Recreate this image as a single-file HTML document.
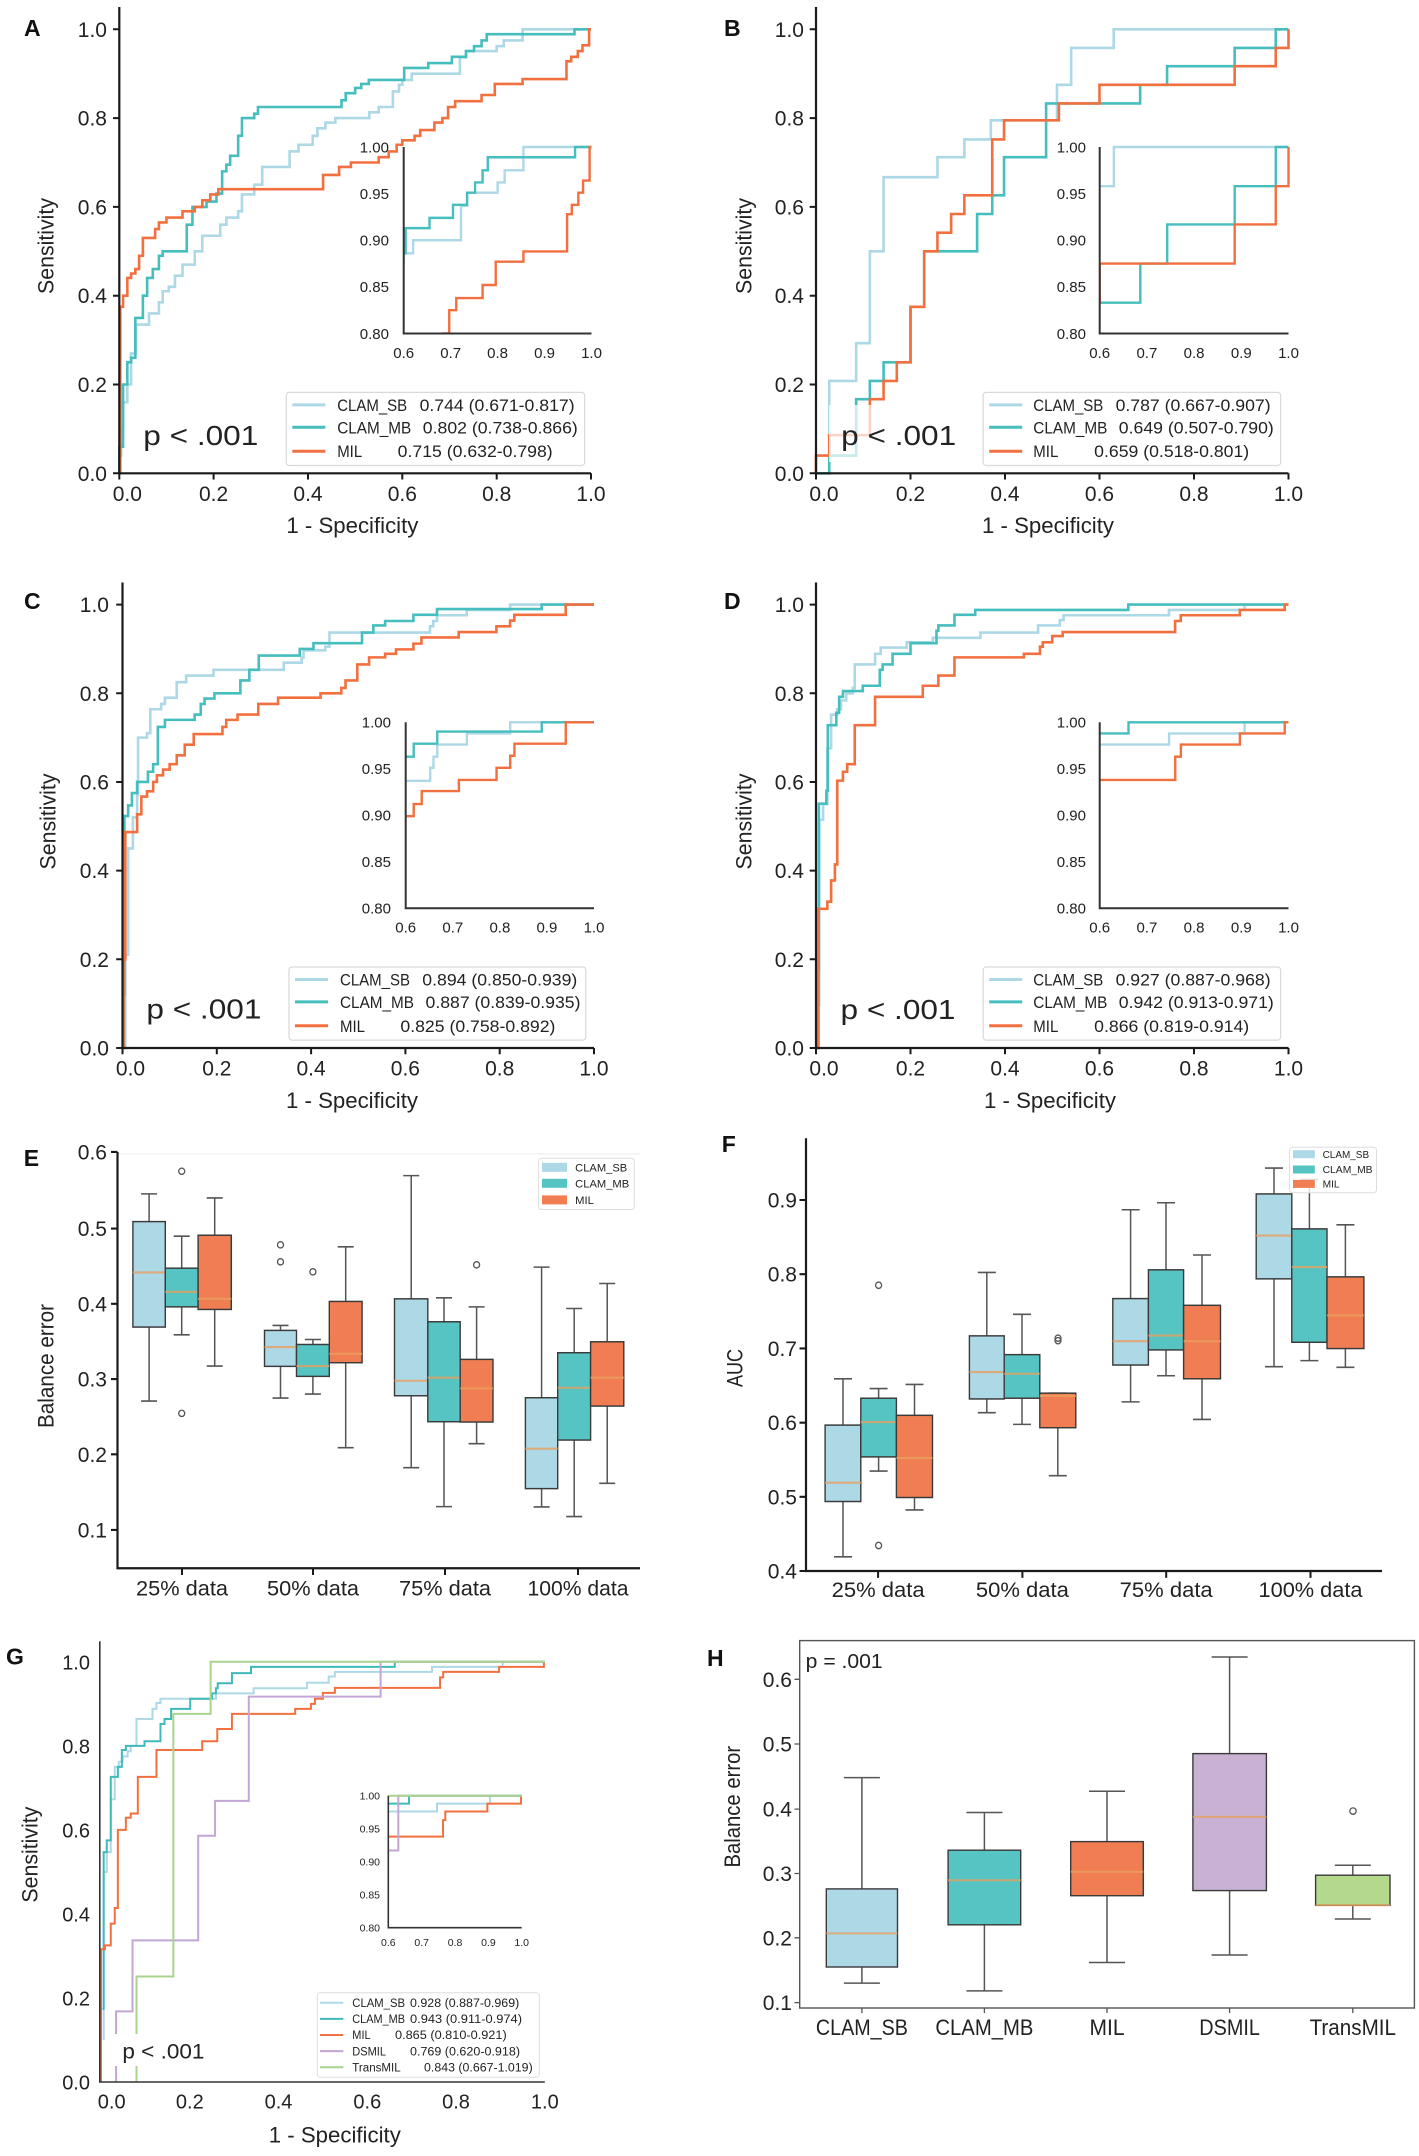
<!DOCTYPE html>
<html><head><meta charset="utf-8"><style>
html,body{margin:0;padding:0;background:#fff;width:1419px;height:2156px;overflow:hidden;}
svg{display:block;}
text{font-family:"Liberation Sans",Arial,sans-serif;fill:#222;}
.tk{font-size:21px;}
.al{font-size:22px;}
.pl{font-size:23px;font-weight:bold;fill:#111;}
.it{font-size:15px;fill:#333;}
.lg{font-size:17px;fill:#333;}
.c path{fill:none;vector-effect:non-scaling-stroke;stroke-width:2.6;}
.ci path{fill:none;vector-effect:non-scaling-stroke;stroke-width:2.4;}
.cg path{fill:none;vector-effect:non-scaling-stroke;stroke-width:2;}
.sb{stroke:#ADD8E6;} .mb{stroke:#46BEBE;} .mi{stroke:#F2703F;} .ds{stroke:#C4A6D6;} .tr{stroke:#A9D48D;}
.wh{stroke:#555;stroke-width:1.5;fill:none;}
.bx{stroke:#3a3a3a;stroke-width:1.4;}
.md{stroke:#E8A060;stroke-opacity:0.8;stroke-width:2;}
.ol{fill:none;stroke:#555;stroke-width:1.3;}
</style></head><body>
<svg width="1419" height="2156" viewBox="0 0 1419 2156" xmlns="http://www.w3.org/2000/svg">
<rect width="1419" height="2156" fill="#fff"/>
<defs>
<clipPath id="clA"><rect x="403.7" y="145" width="190" height="188.5"/></clipPath>
<clipPath id="clB"><rect x="1099.7" y="145" width="191" height="188.5"/></clipPath>
<clipPath id="clC"><rect x="405.7" y="720.3" width="190.5" height="187.9"/></clipPath>
<clipPath id="clD"><rect x="1099.7" y="720.3" width="191" height="187.9"/></clipPath>
<clipPath id="clG"><rect x="388.3" y="1794" width="135.5" height="133.7"/></clipPath>
</defs>

<!-- ================= A ================= -->
<text class="pl" x="24" y="36">A</text>
<g class="c" transform="matrix(471.7 0 0 -444 119.3 473.3)">
<path class="sb" d="M0 0V0.04H0.004V0.1H0.008V0.16H0.017V0.2H0.025V0.27H0.035V0.335H0.063V0.36H0.084V0.385H0.092V0.41H0.105V0.42H0.118V0.445H0.134V0.47H0.16V0.5H0.176V0.535H0.214V0.56H0.227V0.576H0.252V0.59H0.26V0.628H0.286V0.65H0.303V0.69H0.361V0.725H0.38V0.74H0.41V0.76H0.42V0.777H0.437V0.79H0.458V0.8H0.53V0.813H0.55V0.825H0.58V0.86H0.593V0.875H0.6V0.886H0.62V0.9H0.722V0.937H0.735V0.951H0.8V0.962H0.815V0.975H0.855V1H1"/>
<path class="mb" d="M0 0V0.06H0.008V0.2H0.017V0.25H0.025V0.26H0.034V0.35H0.05V0.4H0.059V0.44H0.071V0.46H0.084V0.49H0.092V0.5H0.143V0.56H0.155V0.6H0.185V0.612H0.206V0.63H0.218V0.68H0.227V0.695H0.235V0.715H0.252V0.76H0.26V0.8H0.286V0.81H0.294V0.825H0.471V0.84H0.48V0.856H0.5V0.868H0.513V0.877H0.529V0.886H0.604V0.913H0.655V0.924H0.705V0.938H0.735V0.951H0.752V0.962H0.768V0.975H0.779V0.989H0.965V1H1"/>
<path class="mi" d="M0 0H0.002V0.375H0.008V0.4H0.017V0.44H0.025V0.45H0.034V0.46H0.042V0.49H0.05V0.53H0.076V0.55H0.084V0.565H0.1V0.576H0.134V0.59H0.16V0.6H0.176V0.615H0.193V0.628H0.21V0.64H0.432V0.672H0.466V0.69H0.491V0.7H0.55V0.712H0.571V0.725H0.588V0.74H0.6V0.75H0.626V0.76H0.638V0.773H0.668V0.79H0.685V0.8H0.697V0.825H0.712V0.838H0.768V0.852H0.796V0.877H0.855V0.888H0.948V0.928H0.958V0.938H0.972V0.951H0.982V0.964H0.996V1H1"/>
</g>
<g clip-path="url(#clA)"><g class="ci" transform="matrix(469.5 0 0 -932.5 122 1079.5)">
<path class="sb" d="M0.5 0.8H0.53V0.813H0.55V0.825H0.58V0.86H0.593V0.875H0.6V0.886H0.62V0.9H0.722V0.937H0.735V0.951H0.8V0.962H0.815V0.975H0.855V1H1"/>
<path class="mb" d="M0.5 0.868H0.513V0.877H0.529V0.886H0.604V0.913H0.655V0.924H0.705V0.938H0.735V0.951H0.752V0.962H0.768V0.975H0.779V0.989H0.965V1H1"/>
<path class="mi" d="M0.685 0.79V0.8H0.697V0.825H0.712V0.838H0.768V0.852H0.796V0.877H0.855V0.888H0.948V0.928H0.958V0.938H0.972V0.951H0.982V0.964H0.996V1H1"/>
</g></g>
<path d="M403.7 147V333.5H591.5" stroke="#333" stroke-width="2" fill="none"/>
<g class="it" text-anchor="end"><text x="389" y="152.3">1.00</text><text x="389" y="198.9">0.95</text><text x="389" y="245.6">0.90</text><text x="389" y="292.2">0.85</text><text x="389" y="338.8">0.80</text></g>
<g class="it" text-anchor="middle"><text x="403.7" y="358">0.6</text><text x="450.7" y="358">0.7</text><text x="497.6" y="358">0.8</text><text x="544.6" y="358">0.9</text><text x="591.5" y="358">1.0</text></g>
<path d="M119.3 7V473.3H591" stroke="#1a1a1a" stroke-width="2.2" fill="none"/>
<path d="M113 473.3H119.3M113 384.5H119.3M113 295.7H119.3M113 206.9H119.3M113 118.1H119.3M113 29.3H119.3M119.3 473.3V479.5M213.6 473.3V479.5M308 473.3V479.5M402.3 473.3V479.5M496.7 473.3V479.5M591 473.3V479.5" stroke="#1a1a1a" stroke-width="2"/>
<g class="tk" text-anchor="end"><text x="107" y="480.8">0.0</text><text x="107" y="392">0.2</text><text x="107" y="303.2">0.4</text><text x="107" y="214.4">0.6</text><text x="107" y="125.6">0.8</text><text x="107" y="36.8">1.0</text></g>
<g class="tk" text-anchor="middle"><text x="127.3" y="500.8">0.0</text><text x="213.6" y="500.8">0.2</text><text x="308" y="500.8">0.4</text><text x="402.3" y="500.8">0.6</text><text x="496.7" y="500.8">0.8</text><text x="591" y="500.8">1.0</text></g>
<text class="al" text-anchor="middle" x="352.4" y="533" textLength="132" lengthAdjust="spacingAndGlyphs">1 - Specificity</text>
<text class="al" text-anchor="middle" transform="translate(53.5 246) rotate(-90)" textLength="96" lengthAdjust="spacingAndGlyphs">Sensitivity</text>
<rect x="131" y="405" width="130" height="57" fill="#fff" fill-opacity="0.7"/>
<text x="143.3" y="445" style="font-size:28px" textLength="115" lengthAdjust="spacingAndGlyphs">p &lt; .001</text>
<rect x="286.3" y="392.4" width="298.3" height="73.1" rx="3" fill="#fff" stroke="#d9d9d9" stroke-width="1.2"/>
<path d="M292.3 404.9H325.3" stroke="#ADD8E6" stroke-width="3"/><path d="M292.3 427.3H325.3" stroke="#46BEBE" stroke-width="3"/><path d="M292.3 451.2H325.3" stroke="#F2703F" stroke-width="3"/>
<g class="lg"><text x="337.2" y="410.9" textLength="70" lengthAdjust="spacingAndGlyphs">CLAM_SB</text><text x="419.6" y="410.9" textLength="155" lengthAdjust="spacingAndGlyphs">0.744 (0.671-0.817)</text>
<text x="337.2" y="433.3" textLength="74" lengthAdjust="spacingAndGlyphs">CLAM_MB</text><text x="422.8" y="433.3" textLength="155" lengthAdjust="spacingAndGlyphs">0.802 (0.738-0.866)</text>
<text x="337.2" y="457.2" textLength="25" lengthAdjust="spacingAndGlyphs">MIL</text><text x="397.7" y="457.2" textLength="155" lengthAdjust="spacingAndGlyphs">0.715 (0.632-0.798)</text></g>

<!-- ================= B ================= -->
<text class="pl" x="724" y="36">B</text>
<g class="c" transform="matrix(472.5 0 0 -444 816 473.3)">
<path class="sb" d="M0 0H0.028V0.208H0.085V0.293H0.114V0.5H0.143V0.667H0.257V0.712H0.314V0.752H0.37V0.795H0.51V0.875H0.54V0.958H0.63V1H1"/>
<path class="mb" d="M0 0H0.028V0.04H0.085V0.167H0.114V0.208H0.143V0.25H0.2V0.375H0.229V0.5H0.341V0.584H0.373V0.626H0.398V0.712H0.487V0.833H0.686V0.875H0.743V0.917H0.886V0.958H0.973V1H1"/>
<path class="mi" d="M0 0V0.04H0.028V0.086H0.114V0.167H0.143V0.208H0.171V0.25H0.2V0.375H0.229V0.5H0.257V0.542H0.286V0.584H0.314V0.626H0.373V0.752H0.398V0.795H0.514V0.833H0.6V0.875H0.886V0.917H0.973V0.958H1V1"/>
</g>
<g clip-path="url(#clB)"><g class="ci" transform="matrix(472 0 0 -932.5 816.5 1079.5)">
<path class="sb" d="M0.5 0.795H0.51V0.875H0.54V0.958H0.63V1H1"/>
<path class="mb" d="M0.487 0.8V0.833H0.686V0.875H0.743V0.917H0.886V0.958H0.973V1H1"/>
<path class="mi" d="M0.5 0.795H0.514V0.833H0.6V0.875H0.886V0.917H0.973V0.958H1V1"/>
</g></g>
<path d="M1099.7 147V333.5H1288.5" stroke="#333" stroke-width="2" fill="none"/>
<g class="it" text-anchor="end"><text x="1086" y="152.3">1.00</text><text x="1086" y="198.9">0.95</text><text x="1086" y="245.6">0.90</text><text x="1086" y="292.2">0.85</text><text x="1086" y="338.8">0.80</text></g>
<g class="it" text-anchor="middle"><text x="1099.7" y="358">0.6</text><text x="1146.9" y="358">0.7</text><text x="1194.1" y="358">0.8</text><text x="1241.3" y="358">0.9</text><text x="1288.5" y="358">1.0</text></g>
<path d="M816 7V473.3H1288.5" stroke="#1a1a1a" stroke-width="2.2" fill="none"/>
<path d="M809.7 473.3H816M809.7 384.5H816M809.7 295.7H816M809.7 206.9H816M809.7 118.1H816M809.7 29.3H816M816 473.3V479.5M910.5 473.3V479.5M1005 473.3V479.5M1099.5 473.3V479.5M1194 473.3V479.5M1288.5 473.3V479.5" stroke="#1a1a1a" stroke-width="2"/>
<g class="tk" text-anchor="end"><text x="804" y="480.8">0.0</text><text x="804" y="392">0.2</text><text x="804" y="303.2">0.4</text><text x="804" y="214.4">0.6</text><text x="804" y="125.6">0.8</text><text x="804" y="36.8">1.0</text></g>
<g class="tk" text-anchor="middle"><text x="824" y="500.8">0.0</text><text x="910.5" y="500.8">0.2</text><text x="1005" y="500.8">0.4</text><text x="1099.5" y="500.8">0.6</text><text x="1194" y="500.8">0.8</text><text x="1288.5" y="500.8">1.0</text></g>
<text class="al" text-anchor="middle" x="1048" y="533" textLength="132" lengthAdjust="spacingAndGlyphs">1 - Specificity</text>
<text class="al" text-anchor="middle" transform="translate(751.5 246) rotate(-90)" textLength="96" lengthAdjust="spacingAndGlyphs">Sensitivity</text>
<rect x="829" y="405" width="130" height="57" fill="#fff" fill-opacity="0.7"/>
<text x="841.2" y="445" style="font-size:28px" textLength="115" lengthAdjust="spacingAndGlyphs">p &lt; .001</text>
<rect x="983.2" y="392.4" width="297.4" height="73.1" rx="3" fill="#fff" stroke="#d9d9d9" stroke-width="1.2"/>
<path d="M989.2 404.9H1022.2" stroke="#ADD8E6" stroke-width="3"/><path d="M989.2 427.3H1022.2" stroke="#46BEBE" stroke-width="3"/><path d="M989.2 451.2H1022.2" stroke="#F2703F" stroke-width="3"/>
<g class="lg"><text x="1033.3" y="410.9" textLength="70" lengthAdjust="spacingAndGlyphs">CLAM_SB</text><text x="1115.6" y="410.9" textLength="155" lengthAdjust="spacingAndGlyphs">0.787 (0.667-0.907)</text>
<text x="1033.3" y="433.3" textLength="74" lengthAdjust="spacingAndGlyphs">CLAM_MB</text><text x="1118.8" y="433.3" textLength="155" lengthAdjust="spacingAndGlyphs">0.649 (0.507-0.790)</text>
<text x="1033.3" y="457.2" textLength="25" lengthAdjust="spacingAndGlyphs">MIL</text><text x="1094.2" y="457.2" textLength="155" lengthAdjust="spacingAndGlyphs">0.659 (0.518-0.801)</text></g>

<!-- ================= C ================= -->
<text class="pl" x="24" y="609">C</text>
<g class="c" transform="matrix(471.5 0 0 -443.4 122.5 1048)">
<path class="sb" d="M0 0H0.006V0.21H0.012V0.45H0.022V0.52H0.031V0.57H0.033V0.7H0.052V0.71H0.059V0.764H0.082V0.776H0.09V0.79H0.115V0.825H0.135V0.84H0.193V0.853H0.342V0.869H0.38V0.88H0.384V0.897H0.43V0.905H0.439V0.937H0.652V0.951H0.659V0.963H0.667V0.976H0.73V0.988H0.822V1H1"/>
<path class="mb" d="M0 0H0.003V0.12H0.004V0.523H0.012V0.547H0.02V0.575H0.031V0.6H0.054V0.623H0.065V0.64H0.075V0.724H0.09V0.74H0.153V0.752H0.166V0.776H0.174V0.788H0.195V0.8H0.25V0.829H0.269V0.853H0.289V0.885H0.376V0.9H0.405V0.913H0.508V0.937H0.532V0.953H0.557V0.963H0.617V0.977H0.667V0.99H0.889V1H1"/>
<path class="mi" d="M0 0H0.002V0.2H0.006V0.487H0.031V0.527H0.04V0.567H0.052V0.579H0.065V0.6H0.073V0.615H0.086V0.628H0.1V0.64H0.115V0.66H0.132V0.684H0.151V0.708H0.212V0.724H0.22V0.74H0.244V0.752H0.288V0.776H0.33V0.79H0.42V0.8H0.464V0.812H0.473V0.829H0.498V0.865H0.523V0.881H0.557V0.889H0.58V0.899H0.617V0.912H0.634V0.926H0.713V0.938H0.793V0.951H0.822V0.964H0.831V0.977H0.94V1H1"/>
</g>
<g clip-path="url(#clC)"><g class="ci" transform="matrix(470.75 0 0 -929.5 123.25 1651.8)">
<path class="sb" d="M0.5 0.937H0.652V0.951H0.659V0.963H0.667V0.976H0.73V0.988H0.822V1H1"/>
<path class="mb" d="M0.5 0.937H0.532V0.953H0.557V0.963H0.617V0.977H0.667V0.99H0.889V1H1"/>
<path class="mi" d="M0.5 0.865H0.523V0.881H0.557V0.889H0.58V0.899H0.617V0.912H0.634V0.926H0.713V0.938H0.793V0.951H0.822V0.964H0.831V0.977H0.94V1H1"/>
</g></g>
<path d="M405.7 722.3V908.2H594" stroke="#333" stroke-width="2" fill="none"/>
<g class="it" text-anchor="end"><text x="391" y="727.6">1.00</text><text x="391" y="774.1">0.95</text><text x="391" y="820.5">0.90</text><text x="391" y="867">0.85</text><text x="391" y="913.5">0.80</text></g>
<g class="it" text-anchor="middle"><text x="405.7" y="932.5">0.6</text><text x="452.8" y="932.5">0.7</text><text x="499.9" y="932.5">0.8</text><text x="546.9" y="932.5">0.9</text><text x="594" y="932.5">1.0</text></g>
<path d="M122.5 582.5V1048H594" stroke="#1a1a1a" stroke-width="2.2" fill="none"/>
<path d="M116.2 1048H122.5M116.2 959.3H122.5M116.2 870.6H122.5M116.2 782H122.5M116.2 693.3H122.5M116.2 604.6H122.5M122.5 1048V1054.2M216.8 1048V1054.2M311.1 1048V1054.2M405.4 1048V1054.2M499.7 1048V1054.2M594 1048V1054.2" stroke="#1a1a1a" stroke-width="2"/>
<g class="tk" text-anchor="end"><text x="109" y="1055.5">0.0</text><text x="109" y="966.8">0.2</text><text x="109" y="878.1">0.4</text><text x="109" y="789.5">0.6</text><text x="109" y="700.8">0.8</text><text x="109" y="612.1">1.0</text></g>
<g class="tk" text-anchor="middle"><text x="130.5" y="1075.5">0.0</text><text x="216.8" y="1075.5">0.2</text><text x="311.1" y="1075.5">0.4</text><text x="405.4" y="1075.5">0.6</text><text x="499.7" y="1075.5">0.8</text><text x="594" y="1075.5">1.0</text></g>
<text class="al" text-anchor="middle" x="352" y="1108" textLength="132" lengthAdjust="spacingAndGlyphs">1 - Specificity</text>
<text class="al" text-anchor="middle" transform="translate(55.5 821.5) rotate(-90)" textLength="96" lengthAdjust="spacingAndGlyphs">Sensitivity</text>
<rect x="134" y="978" width="130" height="57" fill="#fff" fill-opacity="0.7"/>
<text x="146.4" y="1018.5" style="font-size:28px" textLength="115" lengthAdjust="spacingAndGlyphs">p &lt; .001</text>
<rect x="289" y="967" width="296.8" height="73.1" rx="3" fill="#fff" stroke="#d9d9d9" stroke-width="1.2"/>
<path d="M295 979.5H328" stroke="#ADD8E6" stroke-width="3"/><path d="M295 1001.9H328" stroke="#46BEBE" stroke-width="3"/><path d="M295 1025.8H328" stroke="#F2703F" stroke-width="3"/>
<g class="lg"><text x="340" y="985.5" textLength="70" lengthAdjust="spacingAndGlyphs">CLAM_SB</text><text x="422.3" y="985.5" textLength="155" lengthAdjust="spacingAndGlyphs">0.894 (0.850-0.939)</text>
<text x="340" y="1007.9" textLength="74" lengthAdjust="spacingAndGlyphs">CLAM_MB</text><text x="425.5" y="1007.9" textLength="155" lengthAdjust="spacingAndGlyphs">0.887 (0.839-0.935)</text>
<text x="340" y="1031.8" textLength="25" lengthAdjust="spacingAndGlyphs">MIL</text><text x="400.4" y="1031.8" textLength="155" lengthAdjust="spacingAndGlyphs">0.825 (0.758-0.892)</text></g>

<!-- ================= D ================= -->
<text class="pl" x="724" y="609">D</text>
<g class="c" transform="matrix(472.5 0 0 -443.4 816 1048)">
<path class="sb" d="M0 0H0.005V0.097H0.007V0.515H0.015V0.55H0.024V0.676H0.032V0.752H0.045V0.764H0.053V0.784H0.064V0.8H0.078V0.812H0.082V0.865H0.125V0.889H0.137V0.903H0.192V0.915H0.247V0.925H0.348V0.937H0.47V0.953H0.516V0.965H0.524V0.976H0.747V0.988H0.907V1H1"/>
<path class="mb" d="M0 0H0.005V0.177H0.006V0.551H0.022V0.58H0.025V0.728H0.043V0.756H0.049V0.792H0.057V0.805H0.099V0.817H0.135V0.853H0.141V0.865H0.162V0.889H0.2V0.913H0.255V0.941H0.259V0.953H0.293V0.977H0.337V0.988H0.661V1H1"/>
<path class="mi" d="M0 0H0.005V0.314H0.024V0.33H0.032V0.378H0.04V0.414H0.045V0.603H0.057V0.623H0.066V0.64H0.082V0.728H0.125V0.792H0.226V0.817H0.259V0.84H0.293V0.881H0.44V0.889H0.474V0.905H0.48V0.915H0.5V0.929H0.522V0.938H0.76V0.963H0.772V0.976H0.897V0.988H0.992V1H1"/>
</g>
<g clip-path="url(#clD)"><g class="ci" transform="matrix(472 0 0 -929.5 816.5 1651.8)">
<path class="sb" d="M0.5 0.953H0.516V0.965H0.524V0.976H0.747V0.988H0.907V1H1"/>
<path class="mb" d="M0.5 0.988H0.661V1H1"/>
<path class="mi" d="M0.5 0.929H0.522V0.938H0.76V0.963H0.772V0.976H0.897V0.988H0.992V1H1"/>
</g></g>
<path d="M1099.7 722.3V908.2H1288.5" stroke="#333" stroke-width="2" fill="none"/>
<g class="it" text-anchor="end"><text x="1086" y="727.6">1.00</text><text x="1086" y="774.1">0.95</text><text x="1086" y="820.5">0.90</text><text x="1086" y="867">0.85</text><text x="1086" y="913.5">0.80</text></g>
<g class="it" text-anchor="middle"><text x="1099.7" y="932.5">0.6</text><text x="1146.9" y="932.5">0.7</text><text x="1194.1" y="932.5">0.8</text><text x="1241.3" y="932.5">0.9</text><text x="1288.5" y="932.5">1.0</text></g>
<path d="M816 582.5V1048H1288.5" stroke="#1a1a1a" stroke-width="2.2" fill="none"/>
<path d="M809.7 1048H816M809.7 959.3H816M809.7 870.6H816M809.7 782H816M809.7 693.3H816M809.7 604.6H816M816 1048V1054.2M910.5 1048V1054.2M1005 1048V1054.2M1099.5 1048V1054.2M1194 1048V1054.2M1288.5 1048V1054.2" stroke="#1a1a1a" stroke-width="2"/>
<g class="tk" text-anchor="end"><text x="804" y="1055.5">0.0</text><text x="804" y="966.8">0.2</text><text x="804" y="878.1">0.4</text><text x="804" y="789.5">0.6</text><text x="804" y="700.8">0.8</text><text x="804" y="612.1">1.0</text></g>
<g class="tk" text-anchor="middle"><text x="824" y="1075.5">0.0</text><text x="910.5" y="1075.5">0.2</text><text x="1005" y="1075.5">0.4</text><text x="1099.5" y="1075.5">0.6</text><text x="1194" y="1075.5">0.8</text><text x="1288.5" y="1075.5">1.0</text></g>
<text class="al" text-anchor="middle" x="1050" y="1108" textLength="132" lengthAdjust="spacingAndGlyphs">1 - Specificity</text>
<text class="al" text-anchor="middle" transform="translate(751.5 821.5) rotate(-90)" textLength="96" lengthAdjust="spacingAndGlyphs">Sensitivity</text>
<rect x="828" y="978" width="130" height="57" fill="#fff" fill-opacity="0.7"/>
<text x="840.5" y="1019" style="font-size:28px" textLength="115" lengthAdjust="spacingAndGlyphs">p &lt; .001</text>
<rect x="983.2" y="967" width="297.4" height="73.1" rx="3" fill="#fff" stroke="#d9d9d9" stroke-width="1.2"/>
<path d="M989.2 979.5H1022.2" stroke="#ADD8E6" stroke-width="3"/><path d="M989.2 1001.9H1022.2" stroke="#46BEBE" stroke-width="3"/><path d="M989.2 1025.8H1022.2" stroke="#F2703F" stroke-width="3"/>
<g class="lg"><text x="1033.3" y="985.5" textLength="70" lengthAdjust="spacingAndGlyphs">CLAM_SB</text><text x="1115.6" y="985.5" textLength="155" lengthAdjust="spacingAndGlyphs">0.927 (0.887-0.968)</text>
<text x="1033.3" y="1007.9" textLength="74" lengthAdjust="spacingAndGlyphs">CLAM_MB</text><text x="1118.8" y="1007.9" textLength="155" lengthAdjust="spacingAndGlyphs">0.942 (0.913-0.971)</text>
<text x="1033.3" y="1031.8" textLength="25" lengthAdjust="spacingAndGlyphs">MIL</text><text x="1094.2" y="1031.8" textLength="155" lengthAdjust="spacingAndGlyphs">0.866 (0.819-0.914)</text></g>

<!-- ================= E ================= -->
<text class="pl" x="23.7" y="1166">E</text>
<g transform="matrix(1 0 0 1.04225 0 -49.32)">
<path d="M117.5 1154.5H640" stroke="#eee" stroke-width="1"/>
<path class="wh" d="M149.1 1192.8V1219.4M149.1 1320.6V1391.6M141.1 1192.8H157.1M141.1 1391.6H157.1"/>
<rect class="bx" x="132.9" y="1219.4" width="32.4" height="101.2" fill="#ADD8E6"/><path class="md" d="M132.9 1268.2H165.3"/>
<path class="wh" d="M181.7 1233.4V1264.1M181.7 1301.2V1328M173.7 1233.4H189.7M173.7 1328H189.7"/>
<rect class="bx" x="165.3" y="1264.1" width="32.8" height="37.1" fill="#57C4C4"/><path class="md" d="M165.3 1286.8H198.1"/>
<circle class="ol" cx="181.7" cy="1171.1" r="3"/><circle class="ol" cx="181.7" cy="1403.4" r="3"/>
<path class="wh" d="M214.7 1196.7V1232.5M214.7 1303.7V1358M206.7 1196.7H222.7M206.7 1358H222.7"/>
<rect class="bx" x="198.1" y="1232.5" width="33.2" height="71.2" fill="#F07E52"/><path class="md" d="M198.1 1293.5H231.3"/>

<path class="wh" d="M280.5 1319V1323.8M280.5 1358.3V1388.7M272.5 1319H288.5M272.5 1388.7H288.5"/>
<rect class="bx" x="264.5" y="1323.8" width="32" height="34.5" fill="#ADD8E6"/><path class="md" d="M264.5 1339.8H296.5"/>
<circle class="ol" cx="280.5" cy="1241.7" r="3"/><circle class="ol" cx="280.5" cy="1258" r="3"/>
<path class="wh" d="M312.9 1332.5V1337.3M312.9 1367.9V1384.9M304.9 1332.5H320.9M304.9 1384.9H320.9"/>
<rect class="bx" x="296.5" y="1337.3" width="32.8" height="30.6" fill="#57C4C4"/><path class="md" d="M296.5 1358H329.3"/>
<circle class="ol" cx="312.9" cy="1267.6" r="3"/>
<path class="wh" d="M345.7 1243.6V1296M345.7 1354.8V1436.3M337.7 1243.6H353.7M337.7 1436.3H353.7"/>
<rect class="bx" x="329.3" y="1296" width="32.8" height="58.8" fill="#F07E52"/><path class="md" d="M329.3 1346.2H362.1"/>

<path class="wh" d="M411.2 1175.3V1293.5M411.2 1386.5V1455.5M403.2 1175.3H419.2M403.2 1455.5H419.2"/>
<rect class="bx" x="394.5" y="1293.5" width="33.3" height="93" fill="#ADD8E6"/><path class="md" d="M394.5 1372.1H427.8"/>
<path class="wh" d="M444 1292.5V1315.5M444 1411.4V1492.9M436 1292.5H452M436 1492.9H452"/>
<rect class="bx" x="427.8" y="1315.5" width="32.4" height="95.9" fill="#57C4C4"/><path class="md" d="M427.8 1369.2H460.2"/>
<path class="wh" d="M476.6 1301.2V1351.6M476.6 1411.7V1432.5M468.6 1301.2H484.6M468.6 1432.5H484.6"/>
<rect class="bx" x="460.2" y="1351.6" width="32.8" height="60.1" fill="#F07E52"/><path class="md" d="M460.2 1379.4H493"/>
<circle class="ol" cx="476.6" cy="1260.9" r="3"/>

<path class="wh" d="M541.6 1263.1V1388.4M541.6 1475.6V1493.2M533.6 1263.1H549.6M533.6 1493.2H549.6"/>
<rect class="bx" x="525.4" y="1388.4" width="32.3" height="87.2" fill="#ADD8E6"/><path class="md" d="M525.4 1437.3H557.7"/>
<path class="wh" d="M574.2 1302.8V1345.2M574.2 1429V1502.4M566.2 1302.8H582.2M566.2 1502.4H582.2"/>
<rect class="bx" x="557.7" y="1345.2" width="32.9" height="83.8" fill="#57C4C4"/><path class="md" d="M557.7 1378.8H590.6"/>
<path class="wh" d="M607.2 1278.8V1334.7M607.2 1396.4V1470.5M599.2 1278.8H615.2M599.2 1470.5H615.2"/>
<rect class="bx" x="590.6" y="1334.7" width="33.2" height="61.7" fill="#F07E52"/><path class="md" d="M590.6 1369.2H623.8"/>
<path d="M117.5 1152.6V1552H640" stroke="#1a1a1a" stroke-width="2.2" fill="none"/>
<path d="M111 1152.6H117.5M111 1226.1H117.5M111 1298.3H117.5M111 1370.5H117.5M111 1442.7H117.5M111 1515.2H117.5M182 1552V1558.5M313 1552V1558.5M445 1552V1558.5M578 1552V1558.5" stroke="#1a1a1a" stroke-width="2"/>
</g>
<g class="tk" text-anchor="end"><text x="107" y="1159.5">0.6</text><text x="107" y="1236.1">0.5</text><text x="107" y="1311.3">0.4</text><text x="107" y="1386.6">0.3</text><text x="107" y="1461.8">0.2</text><text x="107" y="1537.4">0.1</text></g>
<g class="tk" text-anchor="middle"><text x="182" y="1595.5" textLength="92" lengthAdjust="spacingAndGlyphs">25% data</text><text x="313" y="1595.5" textLength="92" lengthAdjust="spacingAndGlyphs">50% data</text><text x="445" y="1595.5" textLength="92" lengthAdjust="spacingAndGlyphs">75% data</text><text x="578" y="1595.5" textLength="101" lengthAdjust="spacingAndGlyphs">100% data</text></g>
<text class="al" text-anchor="middle" transform="translate(53.5 1366) rotate(-90)" textLength="124" lengthAdjust="spacingAndGlyphs">Balance error</text>
<rect x="538.6" y="1158.3" width="95.6" height="51.2" rx="3" fill="#fff" fill-opacity="0.85" stroke="#ddd"/>
<rect x="542" y="1162.8" width="25" height="9" fill="#ADD8E6"/><rect x="542" y="1178.8" width="25" height="9" fill="#57C4C4"/><rect x="542" y="1195.4" width="25" height="9" fill="#F07E52"/>
<g style="font-size:11px"><text x="575.2" y="1171.3" textLength="52" lengthAdjust="spacingAndGlyphs">CLAM_SB</text><text x="575.2" y="1187.3" textLength="54" lengthAdjust="spacingAndGlyphs">CLAM_MB</text><text x="575.2" y="1203.9" textLength="18.7" lengthAdjust="spacingAndGlyphs">MIL</text></g>

<!-- ================= F ================= -->
<text class="pl" x="721.7" y="1152">F</text>
<g transform="matrix(1 0 0 1.0498 0 -58.28)">
<path class="wh" d="M843 1368.9V1413M843 1485.8V1538.5M834 1368.9H852M834 1538.5H852"/>
<rect class="bx" x="825.1" y="1413" width="35.7" height="72.8" fill="#ADD8E6"/><path class="md" d="M825.1 1467.9H860.8"/>
<path class="wh" d="M878.6 1378.2V1387.4M878.6 1443.3V1456.8M869.6 1378.2H887.6M869.6 1456.8H887.6"/>
<rect class="bx" x="860.8" y="1387.4" width="35.6" height="55.9" fill="#57C4C4"/><path class="md" d="M860.8 1410.1H896.4"/>
<circle class="ol" cx="878.6" cy="1279.8" r="3"/><circle class="ol" cx="878.6" cy="1527.7" r="3"/>
<path class="wh" d="M914.5 1374.3V1403.7M914.5 1482V1493.8M905.5 1374.3H923.5M905.5 1493.8H923.5"/>
<rect class="bx" x="896.4" y="1403.7" width="36.1" height="78.3" fill="#F07E52"/><path class="md" d="M896.4 1444.3H932.5"/>

<path class="wh" d="M986.8 1267.6V1328M986.8 1388.1V1401.2M977.8 1267.6H995.8M977.8 1401.2H995.8"/>
<rect class="bx" x="969.4" y="1328" width="34.8" height="60.1" fill="#ADD8E6"/><path class="md" d="M969.4 1362.5H1004.2"/>
<path class="wh" d="M1022 1307.5V1345.9M1022 1387.4V1412.3M1013 1307.5H1031M1013 1412.3H1031"/>
<rect class="bx" x="1004.2" y="1345.9" width="35.6" height="41.5" fill="#57C4C4"/><path class="md" d="M1004.2 1364.1H1039.8"/>
<path class="wh" d="M1057.8 1415.5V1461.2M1048.8 1382.6H1066.8M1048.8 1461.2H1066.8"/>
<rect class="bx" x="1039.8" y="1382.6" width="36" height="32.9" fill="#F07E52"/><path class="md" d="M1039.8 1385.2H1075.8"/>
<circle class="ol" cx="1058" cy="1330.2" r="3"/><circle class="ol" cx="1058" cy="1332.6" r="3"/>

<path class="wh" d="M1130.6 1207.9V1292.5M1130.6 1355.8V1390.9M1121.6 1207.9H1139.6M1121.6 1390.9H1139.6"/>
<rect class="bx" x="1112.8" y="1292.5" width="35.6" height="63.3" fill="#ADD8E6"/><path class="md" d="M1112.8 1333.1H1148.4"/>
<path class="wh" d="M1166 1201.2V1265.1M1166 1341.4V1366M1157 1201.2H1175M1157 1366H1175"/>
<rect class="bx" x="1148.4" y="1265.1" width="35.2" height="76.3" fill="#57C4C4"/><path class="md" d="M1148.4 1327.7H1183.6"/>
<path class="wh" d="M1202 1251V1298.9M1202 1368.9V1407.6M1193 1251H1211M1193 1407.6H1211"/>
<rect class="bx" x="1183.6" y="1298.9" width="36.9" height="70" fill="#F07E52"/><path class="md" d="M1183.6 1333.1H1220.5"/>

<path class="wh" d="M1274 1168.2V1192.8M1274 1273.7V1357.4M1265 1168.2H1283M1265 1357.4H1283"/>
<rect class="bx" x="1256.2" y="1192.8" width="35.6" height="80.9" fill="#ADD8E6"/><path class="md" d="M1256.2 1232.5H1291.8"/>
<path class="wh" d="M1309.4 1179.1V1226.1M1309.4 1334.1V1351.6M1300.4 1179.1H1318.4M1300.4 1351.6H1318.4"/>
<rect class="bx" x="1291.8" y="1226.1" width="35.2" height="108" fill="#57C4C4"/><path class="md" d="M1291.8 1262.5H1327"/>
<path class="wh" d="M1345.4 1222.2V1271.8M1345.4 1340.1V1358M1336.4 1222.2H1354.4M1336.4 1358H1354.4"/>
<rect class="bx" x="1327" y="1271.8" width="36.9" height="68.3" fill="#F07E52"/><path class="md" d="M1327 1308.5H1363.9"/>
<path d="M806 1139.8V1552H1382" stroke="#1a1a1a" stroke-width="2.2" fill="none"/>
<path d="M799.5 1198.6H806M799.5 1269.3H806M799.5 1340H806M799.5 1410.7H806M799.5 1481.3H806M799.5 1552H806M878.1 1552V1558.5M1022.4 1552V1558.5M1166.2 1552V1558.5M1310.5 1552V1558.5" stroke="#1a1a1a" stroke-width="2"/>
</g>
<g class="tk" text-anchor="end"><text x="797" y="1207.5">0.9</text><text x="797" y="1281.7">0.8</text><text x="797" y="1356">0.7</text><text x="797" y="1430.2">0.6</text><text x="797" y="1504.3">0.5</text><text x="797" y="1578.5">0.4</text></g>
<g class="tk" text-anchor="middle"><text x="878.1" y="1597" textLength="93" lengthAdjust="spacingAndGlyphs">25% data</text><text x="1022.4" y="1597" textLength="93" lengthAdjust="spacingAndGlyphs">50% data</text><text x="1166.2" y="1597" textLength="93" lengthAdjust="spacingAndGlyphs">75% data</text><text x="1310.5" y="1597" textLength="104" lengthAdjust="spacingAndGlyphs">100% data</text></g>
<text class="al" text-anchor="middle" transform="translate(742.5 1368) rotate(-90)" textLength="38" lengthAdjust="spacingAndGlyphs">AUC</text>
<rect x="1289.6" y="1147.2" width="86.9" height="45.6" rx="3" fill="#fff" fill-opacity="0.8" stroke="#ddd"/>
<rect x="1293" y="1150.2" width="21.8" height="8" fill="#ADD8E6"/><rect x="1293" y="1165.5" width="21.8" height="8" fill="#57C4C4"/><rect x="1293" y="1179.9" width="21.8" height="8" fill="#F07E52"/>
<g style="font-size:10px"><text x="1322.6" y="1157.8" textLength="46.5" lengthAdjust="spacingAndGlyphs">CLAM_SB</text><text x="1322.6" y="1173.1" textLength="50" lengthAdjust="spacingAndGlyphs">CLAM_MB</text><text x="1322.6" y="1187.5" textLength="17" lengthAdjust="spacingAndGlyphs">MIL</text></g>

<!-- ================= G ================= -->
<text class="pl" x="6" y="1664.5">G</text>
<g class="cg" transform="matrix(443.8 0 0 -420.2 101 2082)">
<path class="sb" d="M0.006 0.1V0.5H0.013V0.547H0.022V0.673H0.031V0.75H0.04V0.762H0.049V0.775H0.06V0.787H0.067V0.8H0.08V0.864H0.116V0.888H0.125V0.902H0.134V0.912H0.259V0.925H0.344V0.937H0.464V0.95H0.513V0.965H0.527V0.976H0.746V0.988H0.905V1H1"/>
<path class="mb" style="stroke:#3FBABB" d="M0.003 0.174H0.006V0.547H0.013V0.575H0.022V0.726H0.038V0.75H0.047V0.79H0.056V0.8H0.098V0.811H0.134V0.852H0.143V0.864H0.158V0.888H0.201V0.912H0.25V0.925H0.259V0.937H0.263V0.949H0.295V0.973H0.338V0.988H0.662V1H1"/>
<path class="mi" d="M0 0V0.316H0.009V0.325H0.022V0.377H0.031V0.414H0.038V0.6H0.056V0.629H0.067V0.639H0.083V0.726H0.125V0.79H0.228V0.811H0.262V0.84H0.295V0.876H0.4375V0.888H0.473V0.9H0.482V0.912H0.5V0.926H0.527V0.938H0.764V0.963H0.771V0.976H0.897V0.988H0.998V1"/>
<path class="ds" d="M0.034 0V0.168H0.071V0.337H0.219V0.586H0.257V0.669H0.333V0.917H0.63V1H1"/>
<path class="tr" d="M0.08 0V0.251H0.163V0.876H0.247V1H1"/>
</g>
<g clip-path="url(#clG)"><g class="cg" transform="matrix(333.5 0 0 -660 188.2 2455.7)">
<path class="sb" d="M0.5 0.95H0.513V0.965H0.527V0.976H0.746V0.988H0.905V1H1"/>
<path class="mb" style="stroke:#3FBABB" d="M0.5 0.988H0.662V1H1"/>
<path class="mi" d="M0.5 0.926H0.527V0.938H0.764V0.963H0.771V0.976H0.897V0.988H0.998V1"/>
<path class="ds" d="M0.5 0.917H0.63V1H1"/>
<path class="tr" d="M0.5 1H1"/>
</g></g>
<path d="M388.3 1795.7V1927.7H521.7" stroke="#333" stroke-width="1.6" fill="none"/>
<g style="font-size:10.5px;fill:#333" text-anchor="end"><text x="380" y="1799.4">1.00</text><text x="380" y="1832.4">0.95</text><text x="380" y="1865.4">0.90</text><text x="380" y="1898.4">0.85</text><text x="380" y="1931.4">0.80</text></g>
<g style="font-size:10.5px;fill:#333" text-anchor="middle"><text x="388.3" y="1946">0.6</text><text x="421.7" y="1946">0.7</text><text x="455" y="1946">0.8</text><text x="488.4" y="1946">0.9</text><text x="521.7" y="1946">1.0</text></g>
<path d="M99.8 1641.2V2082H544.8" stroke="#333" stroke-width="1.6" fill="none"/>
<g class="tk" style="font-size:20px" text-anchor="end"><text x="90" y="1669.3">1.0</text><text x="90" y="1753.3">0.8</text><text x="90" y="1837.4">0.6</text><text x="90" y="1921.4">0.4</text><text x="90" y="2005.5">0.2</text><text x="90" y="2089.5">0.0</text></g>
<g class="tk" style="font-size:20px" text-anchor="middle"><text x="111.7" y="2108.7">0.0</text><text x="189.8" y="2108.7">0.2</text><text x="278.5" y="2108.7">0.4</text><text x="367.3" y="2108.7">0.6</text><text x="456" y="2108.7">0.8</text><text x="544.8" y="2108.7">1.0</text></g>
<text class="al" text-anchor="middle" x="334.8" y="2142.5" textLength="132" lengthAdjust="spacingAndGlyphs">1 - Specificity</text>
<text class="al" text-anchor="middle" transform="translate(37.5 1854.6) rotate(-90)" textLength="96" lengthAdjust="spacingAndGlyphs">Sensitivity</text>
<rect x="112" y="2034" width="98" height="32" fill="#fff"/>
<text x="122.4" y="2058.4" style="font-size:21px" textLength="82" lengthAdjust="spacingAndGlyphs">p &lt; .001</text>
<rect x="317.3" y="1992.7" width="222" height="84.6" rx="3" fill="#fff" stroke="#ddd"/>
<path d="M320 2002.7H343.3" stroke="#ADD8E6" stroke-width="2"/><path d="M320 2018.85H343.3" stroke="#3FBABB" stroke-width="2"/><path d="M320 2035H343.3" stroke="#F2703F" stroke-width="2"/><path d="M320 2051.15H343.3" stroke="#C4A6D6" stroke-width="2"/><path d="M320 2067.3H343.3" stroke="#A9D48D" stroke-width="2"/>
<g style="font-size:11.5px;fill:#333">
<text x="352.3" y="2006.9" textLength="52.7" lengthAdjust="spacingAndGlyphs">CLAM_SB</text><text x="410" y="2006.9" textLength="109.3" lengthAdjust="spacingAndGlyphs">0.928 (0.887-0.969)</text>
<text x="352.3" y="2023" textLength="52.7" lengthAdjust="spacingAndGlyphs">CLAM_MB</text><text x="410" y="2023" textLength="112" lengthAdjust="spacingAndGlyphs">0.943 (0.911-0.974)</text>
<text x="352.3" y="2039.2" textLength="18.3" lengthAdjust="spacingAndGlyphs">MIL</text><text x="395" y="2039.2" textLength="111.7" lengthAdjust="spacingAndGlyphs">0.865 (0.810-0.921)</text>
<text x="352.3" y="2055.3" textLength="33.7" lengthAdjust="spacingAndGlyphs">DSMIL</text><text x="410" y="2055.3" textLength="110" lengthAdjust="spacingAndGlyphs">0.769 (0.620-0.918)</text>
<text x="352.3" y="2071.5" textLength="48.4" lengthAdjust="spacingAndGlyphs">TransMIL</text><text x="424" y="2071.5" textLength="108.7" lengthAdjust="spacingAndGlyphs">0.843 (0.667-1.019)</text>
</g>

<!-- ================= H ================= -->
<text class="pl" x="707" y="1666">H</text>
<g>
<path class="wh" d="M861.9 1777.6V1888.9M861.9 1967V1983.1M843.9 1777.6H879.9M843.9 1983.1H879.9"/>
<rect class="bx" x="826.3" y="1888.9" width="71.2" height="78.1" fill="#ADD8E6"/><path class="md" d="M826.3 1933.4H897.5"/>
<path class="wh" d="M984.4 1812.5V1850.2M984.4 1924.8V1990.9M966.4 1812.5H1002.4M966.4 1990.9H1002.4"/>
<rect class="bx" x="948.1" y="1850.2" width="72.6" height="74.6" fill="#57C4C4"/><path class="md" d="M948.1 1880.3H1020.7"/>
<path class="wh" d="M1107 1791.3V1841.6M1107 1895.7V1962.5M1089 1791.3H1125M1089 1962.5H1125"/>
<rect class="bx" x="1070.7" y="1841.6" width="72.6" height="54.1" fill="#F07E52"/><path class="md" d="M1070.7 1871.7H1143.3"/>
<path class="wh" d="M1229.6 1657V1753.6M1229.6 1890.6V1955M1211.6 1657H1247.6M1211.6 1955H1247.6"/>
<rect class="bx" x="1192.9" y="1753.6" width="73.5" height="137" fill="#C9B1D4"/><path class="md" d="M1192.9 1816.9H1266.4"/>
<path class="wh" d="M1352.8 1865.2V1875.2M1352.8 1905.3V1919M1334.8 1865.2H1370.8M1334.8 1919H1370.8"/>
<rect class="bx" x="1315.6" y="1875.2" width="74.4" height="30.1" fill="#B4D98C"/><path class="md" d="M1315.6 1905.3H1390"/>
<circle class="ol" cx="1353" cy="1811.1" r="3.2"/>
</g>
<rect x="799.7" y="1640.6" width="614.7" height="367.4" fill="none" stroke="#555" stroke-width="1.4"/>
<path d="M794.5 1679.3H799.7M794.5 1744H799.7M794.5 1809.1H799.7M794.5 1873.5H799.7M794.5 1937.8H799.7M794.5 2002.6H799.7M861.9 2008V2013M984.4 2008V2013M1107 2008V2013M1229.6 2008V2013M1352.8 2008V2013" stroke="#555" stroke-width="1.3"/>
<g class="tk" text-anchor="end"><text x="792" y="1686.8">0.6</text><text x="792" y="1751.5">0.5</text><text x="792" y="1816.6">0.4</text><text x="792" y="1881">0.3</text><text x="792" y="1945.3">0.2</text><text x="792" y="2010.1">0.1</text></g>
<g class="al" text-anchor="middle"><text x="861.9" y="2035" textLength="92" lengthAdjust="spacingAndGlyphs">CLAM_SB</text><text x="984.4" y="2035" textLength="98" lengthAdjust="spacingAndGlyphs">CLAM_MB</text><text x="1107" y="2035" textLength="35" lengthAdjust="spacingAndGlyphs">MIL</text><text x="1229.6" y="2035" textLength="60.6" lengthAdjust="spacingAndGlyphs">DSMIL</text><text x="1352.8" y="2035" textLength="86.4" lengthAdjust="spacingAndGlyphs">TransMIL</text></g>
<text class="al" text-anchor="middle" transform="translate(740 1806.7) rotate(-90)" textLength="121.6" lengthAdjust="spacingAndGlyphs">Balance error</text>
<text x="805.7" y="1668" style="font-size:20px" textLength="77" lengthAdjust="spacingAndGlyphs">p = .001</text>
</svg>
</body></html>
